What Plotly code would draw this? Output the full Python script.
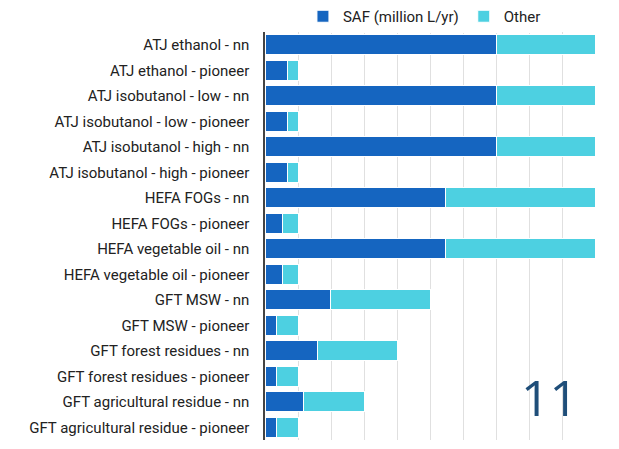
import plotly.graph_objects as go

categories = [
    "ATJ ethanol - nn",
    "ATJ ethanol - pioneer",
    "ATJ isobutanol - low - nn",
    "ATJ isobutanol - low - pioneer",
    "ATJ isobutanol - high - nn",
    "ATJ isobutanol - high - pioneer",
    "HEFA FOGs - nn",
    "HEFA FOGs - pioneer",
    "HEFA vegetable oil - nn",
    "HEFA vegetable oil - pioneer",
    "GFT MSW - nn",
    "GFT MSW - pioneer",
    "GFT forest residues - nn",
    "GFT forest residues - pioneer",
    "GFT agricultural residue - nn",
    "GFT agricultural residue - pioneer",
]
saf = [700, 68, 700, 68, 700, 68, 548, 54, 548, 54, 198, 35, 160, 35, 116, 35]
other = [300, 32, 300, 32, 300, 32, 452, 46, 452, 46, 302, 65, 240, 65, 184, 65]
x_ticks = [0, 100, 200, 300, 400, 500, 600, 700, 800, 900, 1000]
slide_number = "11"

fig = go.Figure()
fig.add_trace(go.Bar(
    y=categories, x=saf, orientation="h", name="SAF (million L/yr)",
    marker=dict(color="#1565C0", line=dict(color="white", width=1)),
))
fig.add_trace(go.Bar(
    y=categories, x=other, orientation="h", name="Other",
    marker=dict(color="#4DD0E1", line=dict(color="white", width=1)),
))

fig.update_layout(
    barmode="stack",
    bargap=0.2,
    width=619, height=449,
    margin=dict(l=265, r=24, t=32, b=9, autoexpand=False),
    paper_bgcolor="white", plot_bgcolor="white",
    font=dict(family="Roboto", size=15, color="#222222"),
    showlegend=True,
    legend=dict(
        orientation="h", x=0.115, xanchor="left",
        yref="container", y=1.0, yanchor="top",
        traceorder="normal",
        font=dict(size=15, color="#222222"),
        itemwidth=30,
    ),
    xaxis=dict(
        range=[0, 1000], tickvals=x_ticks, showticklabels=False,
        showgrid=True, gridcolor="#e0e0e0", gridwidth=1,
        zeroline=False, showline=False, fixedrange=True,
    ),
    yaxis=dict(
        categoryorder="array", categoryarray=categories,
        autorange="reversed", showgrid=False,
        showline=True, linecolor="#444444", linewidth=1.5,
        ticks="", ticklabelstandoff=11,
        tickfont=dict(size=15, color="#222222"),
    ),
    annotations=[dict(
        text=slide_number, xref="paper", yref="paper",
        x=0.862, y=0.105, xanchor="center", yanchor="middle",
        showarrow=False,
        font=dict(family="Open Sans", size=50, color="#1F4E79"),
    )],
)

fig.write_html(
    "out.html",
    config={"displayModeBar": False},
    post_script="document.body.style.margin='0';",
)
